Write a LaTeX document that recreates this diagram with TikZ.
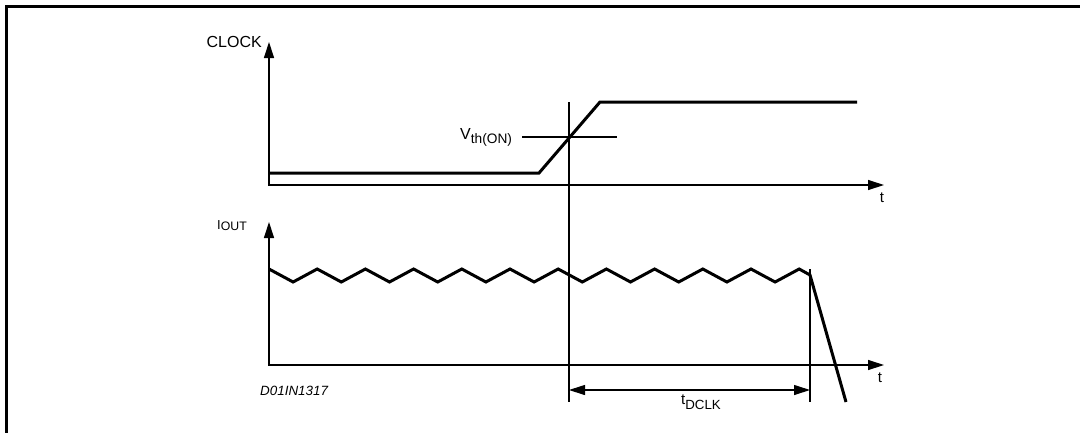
\documentclass[tikz,border=0pt]{standalone}
\usepackage{fontspec}
\setmainfont{Liberation Sans}
\usetikzlibrary{arrows.meta}
\newcommand{\lowsub}[3]{\raisebox{-#1pt}{\fontsize{#2}{#2}\selectfont #3}}
\begin{document}
\begin{tikzpicture}[x=1pt,y=-1pt,
  axisline/.style={line width=1.3pt,{Triangle[length=16pt,width=10pt]}-{Triangle[length=16pt,width=10pt]}},
  sig/.style={line width=3pt,line join=miter},
  thinline/.style={line width=1.1pt},
  dimline/.style={line width=1.1pt,{Triangle[length=16pt,width=10pt]}-{Triangle[length=16pt,width=10pt]}},
  lbl/.style={inner sep=0pt,font=\fontsize{16}{18}\selectfont},
  tlbl/.style={inner sep=0pt,font=\fontsize{15}{17}\selectfont}]
\useasboundingbox (0,0) rectangle (1080,432);
% frame
\draw[line width=3pt] (6,440) -- (6,6) -- (1090,6);
% clock axes
\coordinate (o1) at (269,185);
\coordinate (y1) at (269,42);
\coordinate (x1) at (884,185);
\draw[axisline] (y1) -- (o1) -- (x1);
\node[lbl,anchor=base east] (clk) at (262,47) {CLOCK};
\node[tlbl] (t1) at (882,198) {t};
% clock signal
\coordinate (c0) at (269,173);
\coordinate (c1) at (539,173);
\coordinate (c2) at (600,102);
\coordinate (c3) at (857,102);
\draw[sig] (c0) -- (c1) -- (c2) -- (c3);
% threshold
\coordinate (h0) at (522,137);
\coordinate (h1) at (617,137);
\draw[thinline] (h0) -- (h1);
\node[lbl,anchor=base west] (vth) at (460,139) {V\lowsub{4}{13.7}{th(ON)}};
\coordinate (v0) at (569,102);
\coordinate (v1) at (569,402);
\draw[thinline] (v0) -- (v1);
% iout axes
\coordinate (o2) at (269,365);
\coordinate (y2) at (269,222);
\coordinate (x2) at (884,365);
\draw[axisline] (y2) -- (o2) -- (x2);
\node[inner sep=0pt,anchor=base west,font=\fontsize{13}{14}\selectfont] (iout) at (217,229) {I\lowsub{1}{12.3}{OUT}};
\node[tlbl] (t2) at (880,378) {t};
% iout signal
\coordinate (z0) at (269,269);
\coordinate (z1) at (810,275);
\coordinate (z2) at (846,402);
\draw[sig] (z0) \foreach \k in {1,...,11} { -- ++(24.1,13) -- ++(24.1,-13)} -- (z1) -- (z2);
\coordinate (w0) at (810,269);
\coordinate (w1) at (810,402);
\draw[thinline] (w0) -- (w1);
% dimension
\coordinate (d0) at (569,390);
\coordinate (d1) at (810,390);
\draw[dimline] (d0) -- (d1);
\node[tlbl,anchor=base west] (tdclk) at (681,404) {t\lowsub{5}{13.3}{DCLK}};
\node[inner sep=0pt,anchor=base west,font=\fontsize{13.4}{15}\selectfont\itshape] (ref) at (260,395) {D01IN1317};
\end{tikzpicture}
\end{document}
